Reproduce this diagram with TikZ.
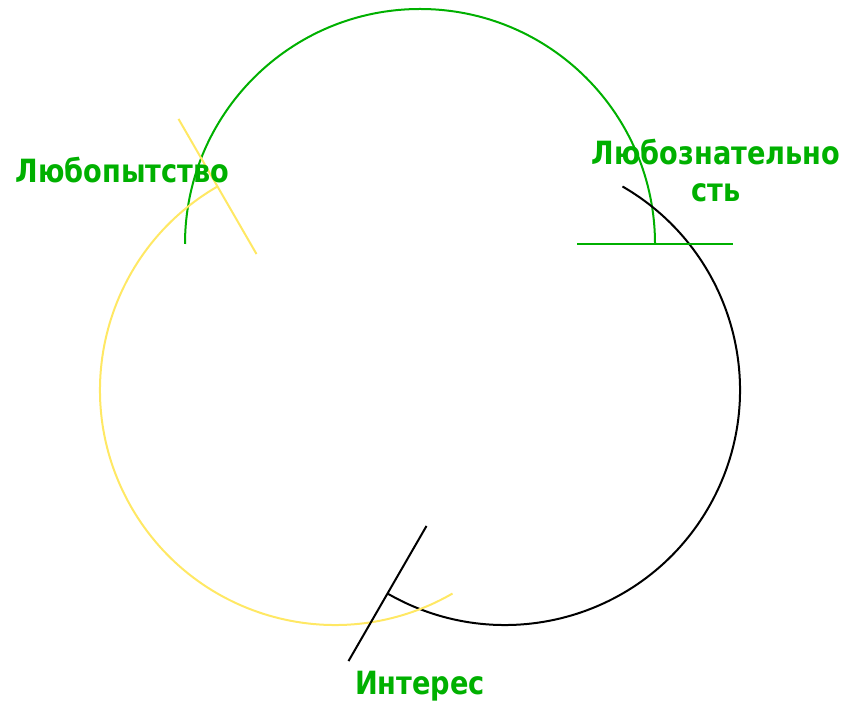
\documentclass[tikz,border=0pt]{standalone}
\usepackage{fontspec}
\newfontfamily\lblfont{DejaVu Sans}[FakeStretch=0.85]
\usepackage{tikz}
\usetikzlibrary{calc}
\definecolor{arcgreen}{RGB}{0,176,0}
\definecolor{arcyellow}{RGB}{255,232,100}
\tikzset{
  ring/.style={line width=2pt},
  tick/.style={ring},
  lbl/.style={text=arcgreen,inner sep=0pt,anchor=base,align=center,
              font=\lblfont\bfseries\fontsize{32}{37}\selectfont},
}

\begin{document}
\begin{tikzpicture}[x=1pt,y=1pt]
  \useasboundingbox (0,0) rectangle (842,707);
  % ---- circle centres ----
  \coordinate (cG) at (420,463);
  \coordinate (cY) at (335,317);
  \coordinate (cK) at (505,317);
  % ---- arcs ----
  \draw[ring,arcgreen] ($(cG)+(180:235)$) arc[start angle=180,end angle=0,radius=235];
  \draw[ring,black] ($(cK)+(60:235)$) arc[start angle=60,end angle=-120,radius=235];
  \draw[ring,arcyellow] ($(cY)+(300:235)$) arc[start angle=300,end angle=120,radius=235];
  % ---- ticks ----
  \draw[tick,arcgreen] ($(cG)+(0:157)$) -- ($(cG)+(0:313)$);
  \draw[tick,black] ($(cK)+(240:157)$) -- ($(cK)+(240:313)$);
  \draw[tick,arcyellow] ($(cY)+(120:157)$) -- ($(cY)+(120:313)$);
  % ---- labels ----
  \node[lbl] (curio) at (122.5,524) {Любопытство};
  \node[lbl] (inquis) at (716,505) {Любознательно\\сть};
  \node[lbl] (interest) at (420,13) {Интерес};
\end{tikzpicture}
\end{document}
